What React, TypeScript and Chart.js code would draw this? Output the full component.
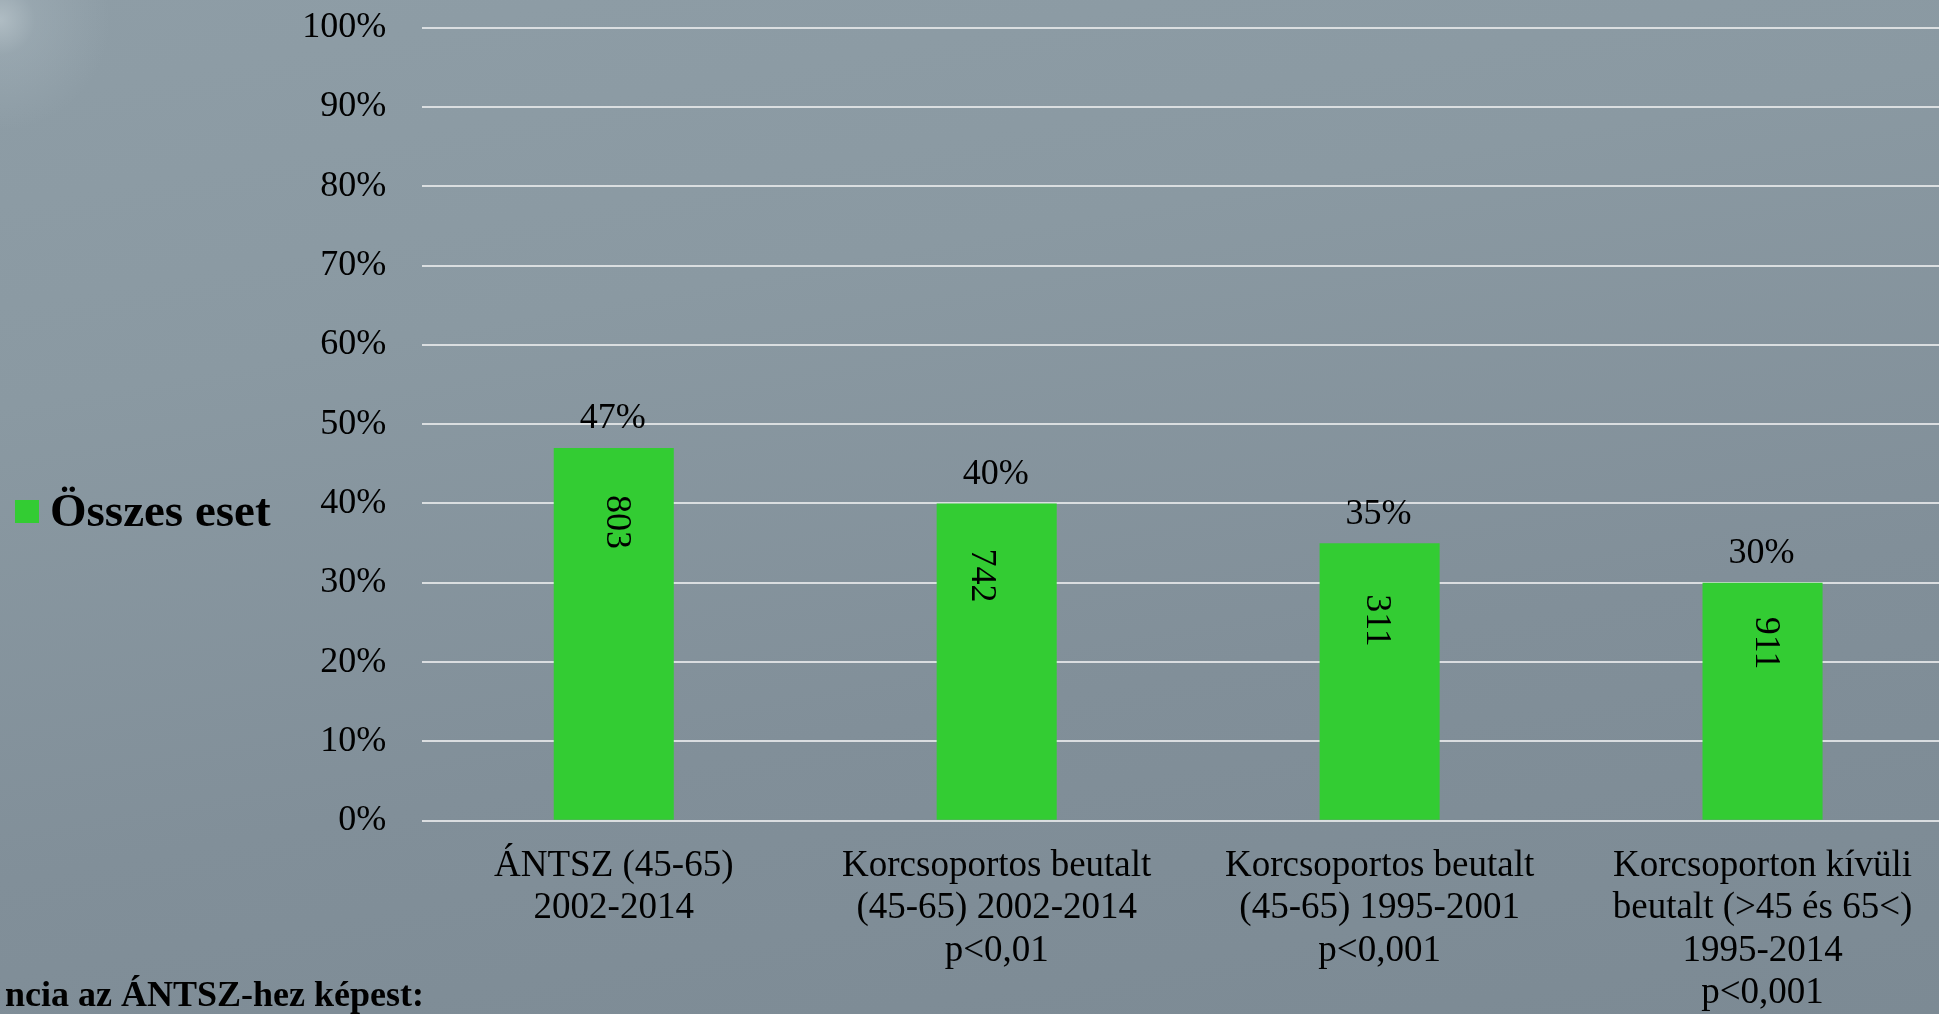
import React, { useEffect, useRef } from "react";
import { Chart, registerables } from "chart.js";

Chart.register(...registerables);

// ---- data ----
const categories: string[][] = [
  ["ÁNTSZ (45-65)", "2002-2014"],
  ["Korcsoportos beutalt", "(45-65) 2002-2014", "p<0,01"],
  ["Korcsoportos beutalt", "(45-65) 1995-2001", "p<0,001"],
  ["Korcsoporton kívüli", "beutalt (>45 és 65<)", "1995-2014", "p<0,001"],
];
const percentValues = [47, 40, 35, 30];
const caseCounts = [803, 742, 311, 911];
const yTickMin = 0;
const yTickMax = 100;
const yTickStep = 10;
const seriesName = "Összes eset";
const footnoteText = "ncia az ÁNTSZ-hez képest:";

// ---- style ----
const SERIF = '"Liberation Serif", "Times New Roman", serif';
const BAR_COLOR = "#33cc33";
const GRID_COLOR = "rgba(222,226,228,0.95)";
const CANVAS_W = 1954;
const CANVAS_H = 1014;
const PLOT_TOP = 27.7;
const PLOT_BOTTOM = 820.7;
const countLabelShift = [
  { dx: 3, dy: 47 },
  { dx: -15, dy: 45 },
  { dx: -3.5, dy: 51 },
  { dx: 3, dy: 34 },
];

const overlayPlugin = {
  id: "overlay",
  afterDatasetsDraw(chart: any) {
    const ctx = chart.ctx;
    const meta = chart.getDatasetMeta(0);
    ctx.save();
    ctx.fillStyle = "#000";
    meta.data.forEach((bar: any, i: number) => {
      ctx.font = `36px ${SERIF}`;
      ctx.textAlign = "center";
      ctx.textBaseline = "alphabetic";
      ctx.fillText(`${percentValues[i]}%`, bar.x - 1, bar.y - 19.5);
      const s = countLabelShift[i];
      ctx.save();
      ctx.translate(bar.x + s.dx, bar.y + s.dy);
      ctx.rotate(Math.PI / 2);
      ctx.textAlign = "left";
      ctx.textBaseline = "middle";
      ctx.font = `36px ${SERIF}`;
      ctx.fillText(String(caseCounts[i]), 0, 0);
      ctx.restore();
    });
    ctx.fillStyle = BAR_COLOR;
    ctx.fillRect(15, 500, 24, 23);
    ctx.fillStyle = "#000";
    ctx.font = `bold 47px ${SERIF}`;
    ctx.textAlign = "left";
    ctx.textBaseline = "alphabetic";
    ctx.fillText(seriesName, 50, 526);
    ctx.font = `bold 36px ${SERIF}`;
    ctx.textAlign = "right";
    ctx.fillText(footnoteText, 424, 1006);
    ctx.restore();
  },
};

export default function App() {
  const canvasRef = useRef<HTMLCanvasElement | null>(null);

  useEffect(() => {
    if (!canvasRef.current) return;
    const chart = new Chart(canvasRef.current, {
      type: "bar",
      data: {
        labels: categories,
        datasets: [
          {
            label: seriesName,
            data: percentValues,
            backgroundColor: BAR_COLOR,
            borderWidth: 0,
            categoryPercentage: 1,
            barPercentage: 0.3135,
          },
        ],
      },
      options: {
        responsive: false,
        animation: false,
        devicePixelRatio: 1,
        layout: { padding: 0 },
        plugins: {
          legend: { display: false },
          tooltip: { enabled: false },
          title: { display: false },
        },
        scales: {
          x: {
            grid: { display: false, drawTicks: false },
            border: { display: false },
            ticks: {
              color: "#000",
              font: { family: SERIF, size: 37, lineHeight: 1.15 },
              padding: 24,
              maxRotation: 0,
              autoSkip: false,
            },
            afterFit: (scale: any) => {
              scale.height = CANVAS_H - PLOT_BOTTOM;
            },
          },
          y: {
            min: yTickMin,
            max: yTickMax,
            grid: { color: GRID_COLOR, lineWidth: 2, drawTicks: false },
            border: { display: false },
            ticks: {
              stepSize: yTickStep,
              color: "#000",
              font: { family: SERIF, size: 36 },
              padding: 36,
              callback: (v: any) => `${v}%`,
            },
            afterFit: (scale: any) => {
              scale.width = 422.3;
              scale.paddingTop = PLOT_TOP;
              scale.paddingBottom = 0;
            },
          },
        },
      },
      plugins: [overlayPlugin],
    });
    return () => chart.destroy();
  }, []);

  return (
    <div
      style={{
        position: "absolute",
        left: 0,
        top: 0,
        width: 1939,
        height: 1014,
        overflow: "hidden",
        background:
          "radial-gradient(circle at 0px 20px, rgba(190,202,208,0.7) 0px, rgba(170,184,192,0.35) 35px, rgba(150,165,173,0) 110px), linear-gradient(170deg, #8e9da6 0%, #8a99a2 30%, #818f99 65%, #7c8a94 100%)",
      }}
    >
      <canvas
        ref={canvasRef}
        width={CANVAS_W}
        height={CANVAS_H}
        style={{ width: CANVAS_W, height: CANVAS_H, display: "block" }}
      />
    </div>
  );
}
